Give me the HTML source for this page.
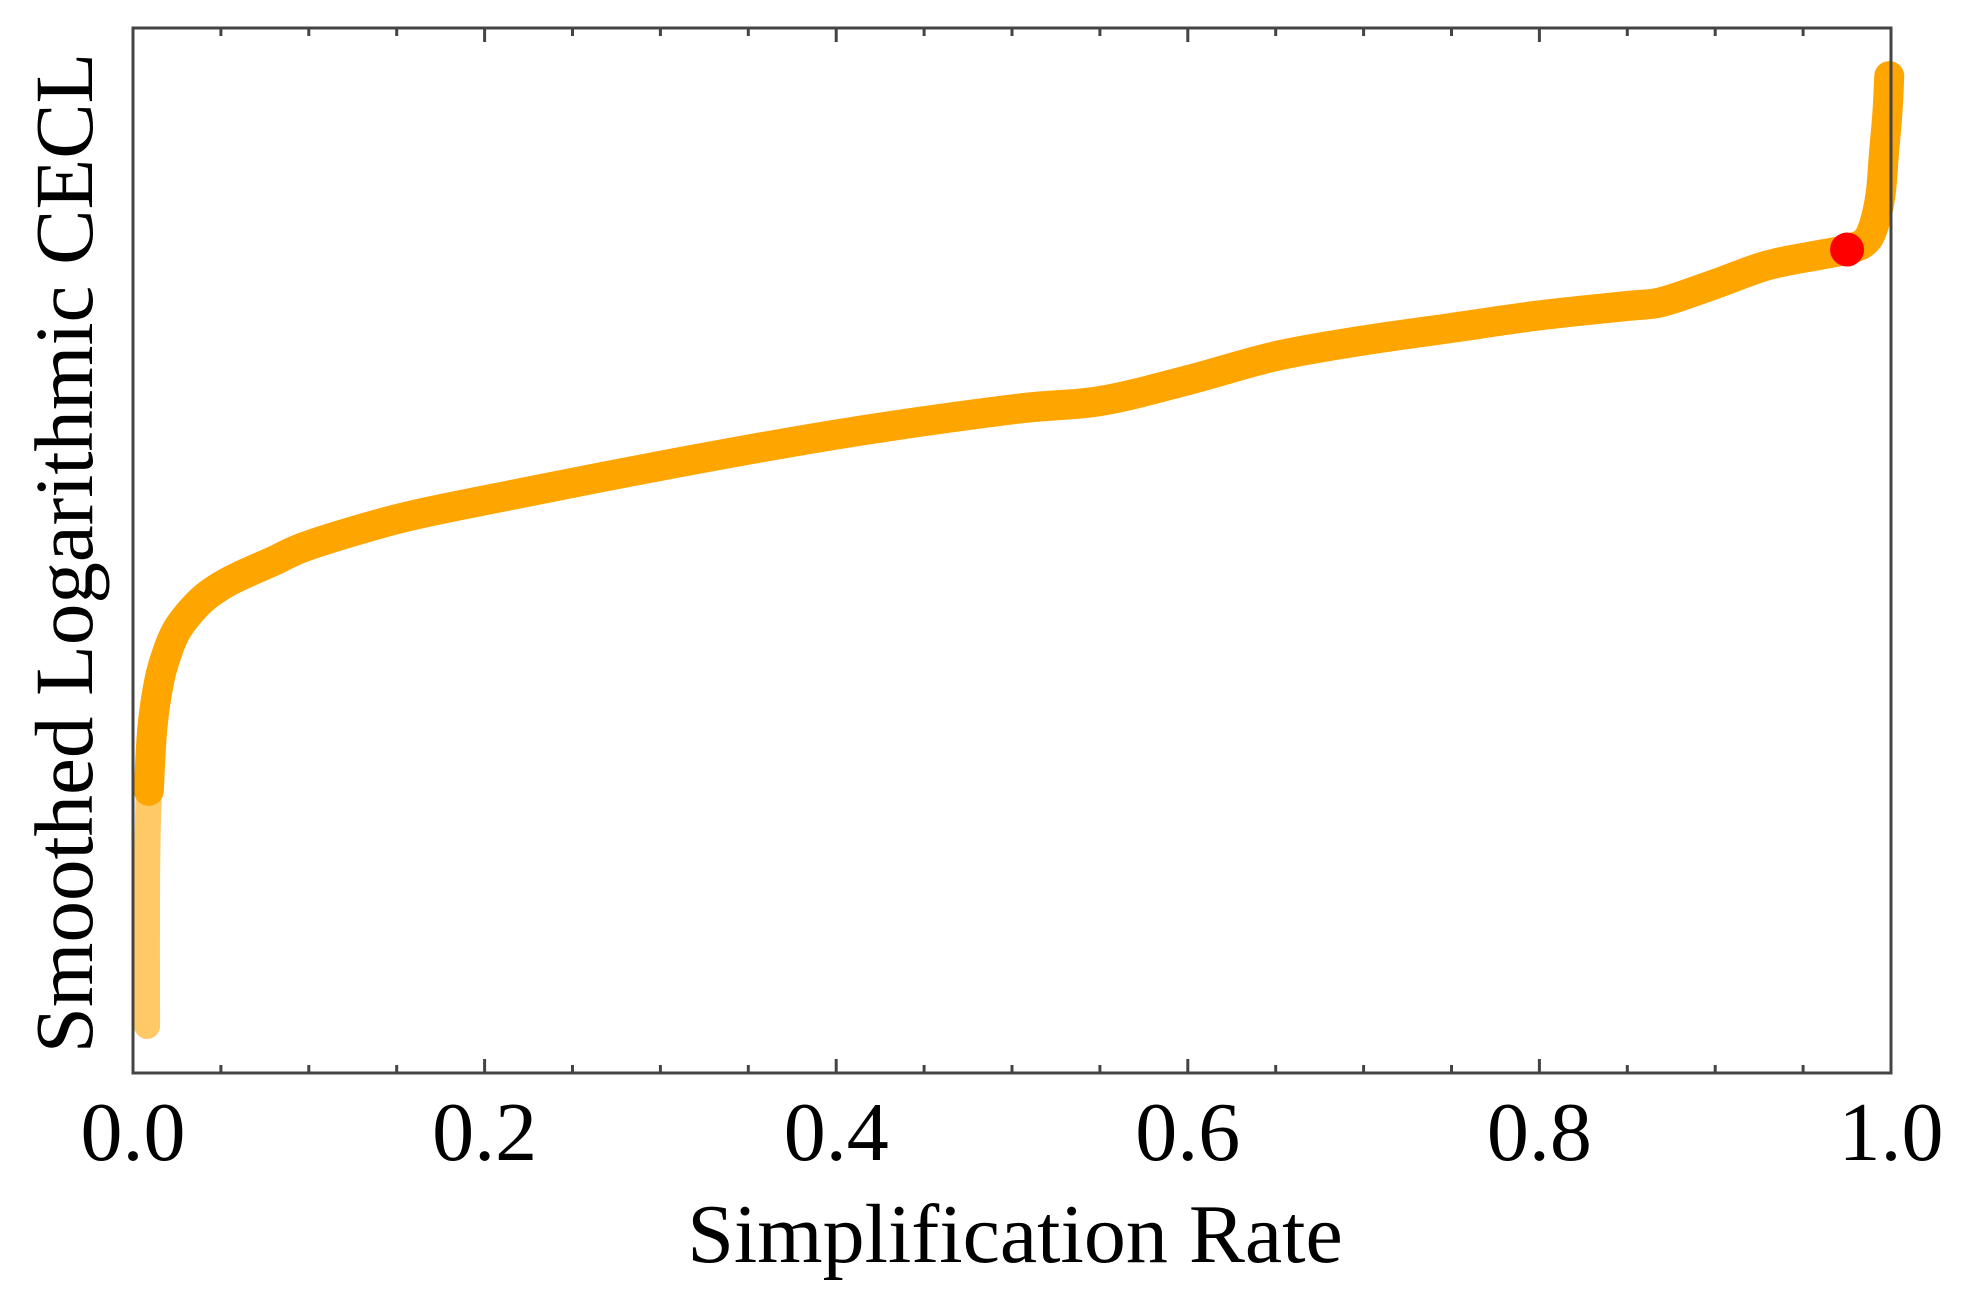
<!DOCTYPE html>
<html><head><meta charset="utf-8"><style>
html,body{margin:0;padding:0;background:#fff;}
svg{display:block;font-family:"Liberation Serif",serif;}
</style></head><body>
<svg id="chart" width="1971" height="1301" viewBox="0 0 1971 1301" xmlns="http://www.w3.org/2000/svg">
<rect x="0" y="0" width="1971" height="1301" fill="#fff"/>
<g id="ticks"></g>
<g id="series"></g>
<rect x="133" y="28" width="1758" height="1045" fill="none" stroke="#444" stroke-width="3"/>
<g id="xlabels"></g>
<text x="1015" y="1262" font-size="84" text-anchor="middle" fill="#000">Simplification Rate</text>
<text transform="translate(92,553) rotate(-90)" font-size="83" text-anchor="middle" fill="#000">Smoothed Logarithmic CECL</text>
</svg>
<script>
const xs = [0.008,0.008,0.009,0.011,0.015,0.02,0.025,0.032,0.04,0.05,0.06,0.08,0.1,0.15,0.2,0.3,0.4,0.5,0.55,0.6,0.65,0.7,0.75,0.8,0.85,0.87,0.9,0.93,0.96,0.975,0.985,0.99,0.994,0.996,0.998,0.999];
const ys = [0.045,0.183,0.27,0.33,0.376,0.405,0.424,0.44,0.454,0.466,0.475,0.49,0.505,0.530,0.548,0.581,0.611,0.635,0.643,0.663,0.686,0.701,0.713,0.725,0.734,0.738,0.755,0.773,0.783,0.788,0.795,0.810,0.84,0.88,0.92,0.954];
const kneeX = [0.975];
const kneeY = [0.788];
const xTickLabels = ["0.0","0.2","0.4","0.6","0.8","1.0"];
const xTickValues = [0,0.2,0.4,0.6,0.8,1.0];

const L=133,R=1891,T=28,B=1073;
function sx(v){return L+v*(R-L);}
function sy(v){return B-v*(B-T);}
const NS="http://www.w3.org/2000/svg";
const ticks=document.getElementById('ticks');
for(let i=0;i<=20;i++){
  const v=i*0.05, major=(i%4===0), len=major?14:8, x=sx(v);
  [[B,B-len],[T,T+len]].forEach(function(p){
    const l=document.createElementNS(NS,'line');
    l.setAttribute('x1',x);l.setAttribute('x2',x);l.setAttribute('y1',p[0]);l.setAttribute('y2',p[1]);
    l.setAttribute('stroke','#444');l.setAttribute('stroke-width','3');
    
    
    ticks.appendChild(l);
  });
}
const xl=document.getElementById('xlabels');
xTickValues.forEach(function(v,i){
  const t=document.createElementNS(NS,'text');
  t.setAttribute('x',sx(v));t.setAttribute('y',1160);t.setAttribute('font-size','84');
  t.setAttribute('text-anchor','middle');t.textContent=xTickLabels[i];
  
  
  xl.appendChild(t);
});
function smoothPath(P){
  let d='M'+P[0][0]+','+P[0][1];
  for(let i=0;i<P.length-1;i++){
    const p0=P[Math.max(0,i-1)],p1=P[i],p2=P[i+1],p3=P[Math.min(P.length-1,i+2)];
    const c1=[p1[0]+(p2[0]-p0[0])/6,p1[1]+(p2[1]-p0[1])/6];
    const c2=[p2[0]-(p3[0]-p1[0])/6,p2[1]-(p3[1]-p1[1])/6];
    d+=' C'+c1[0]+','+c1[1]+' '+c2[0]+','+c2[1]+' '+p2[0]+','+p2[1];
  }
  return d;
}
const g=document.getElementById('series');
const P=xs.map(function(x,i){return [sx(x),sy(ys[i])];});
const faint=document.createElementNS(NS,'path');
faint.setAttribute('d',smoothPath(P.slice(0,4)));
faint.setAttribute('fill','none');faint.setAttribute('stroke','#FFA500');faint.setAttribute('stroke-opacity','0.6');
faint.setAttribute('stroke-width','26');faint.setAttribute('stroke-linecap','round');faint.setAttribute('stroke-linejoin','round');


g.appendChild(faint);
const line=document.createElementNS(NS,'path');
line.setAttribute('d',smoothPath(P.slice(2)));
line.setAttribute('fill','none');line.setAttribute('stroke','#FFA500');
line.setAttribute('stroke-width','30');line.setAttribute('stroke-linecap','round');line.setAttribute('stroke-linejoin','round');


g.appendChild(line);
kneeX.forEach(function(x,i){
  const c=document.createElementNS(NS,'circle');
  c.setAttribute('cx',sx(x));c.setAttribute('cy',sy(kneeY[i]));c.setAttribute('r','17');c.setAttribute('fill','#FF0000');
  
  
  g.appendChild(c);
});
</script>
</body></html>
